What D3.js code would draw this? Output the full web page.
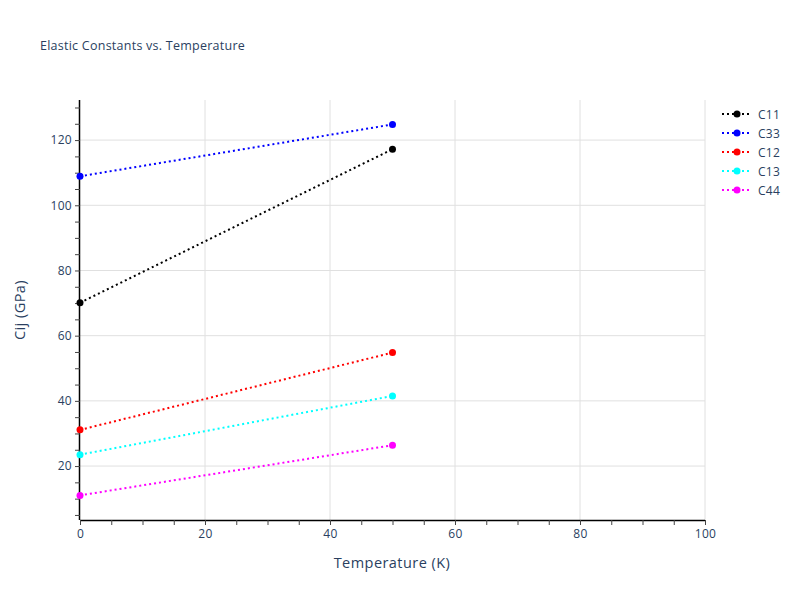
<!DOCTYPE html>
<html><head><meta charset="utf-8">
<script src="https://cdn.jsdelivr.net/npm/d3@7"></script>
<style>body{margin:0;background:#fff}text{font-family:"Open Sans",verdana,arial,sans-serif}</style>
</head><body><svg id="c" width="800" height="600"></svg>
<script>
const temps = [0, 50];
const seriesNames = ["C11", "C33", "C12", "C13", "C44"];
const seriesColors = ["#000000", "#0000ff", "#ff0000", "#00ffff", "#ff00ff"];
const C11 = [70.1, 117.2];
const C33 = [108.9, 124.8];
const C12 = [31.1, 54.8];
const C13 = [23.5, 41.5];
const C44 = [11.0, 26.4];
const seriesValues = [C11, C33, C12, C13, C44];
const xTicks = [0, 20, 40, 60, 80, 100];
const yTicks = [20, 40, 60, 80, 100, 120];

const svg = d3.select("#c");
const L = 80, R = 705, T = 100, B = 520;
const x = d3.scaleLinear().domain([0, 100]).range([L, R]);
const y = d3.scaleLinear().domain([3.45, 132.3]).range([B, T]);
const txt = "#2a3f5f";

// gridlines
svg.append("g").selectAll("line").data(xTicks.filter(d => d > 0)).join("line")
  .attr("x1", d => x(d)).attr("x2", d => x(d)).attr("y1", T).attr("y2", B)
  .attr("stroke", "#e0e0e0").attr("stroke-width", 1);
svg.append("g").selectAll("line").data(yTicks).join("line")
  .attr("x1", L).attr("x2", R).attr("y1", d => y(d)).attr("y2", d => y(d))
  .attr("stroke", "#e0e0e0").attr("stroke-width", 1);

// axes
const xAxis = d3.axisBottom(x).tickValues(d3.range(0, 101, 5)).tickSize(5)
  .tickFormat(d => xTicks.includes(d) ? d : "");
const gx = svg.append("g").attr("transform", `translate(0,${B})`).call(xAxis);
gx.select(".domain").attr("stroke", "#000").attr("d", `M${L},0.5H${R}`);
gx.selectAll(".tick line").attr("stroke", "#444");
gx.selectAll(".tick text").attr("fill", txt).attr("font-size", 12).attr("dy", "0.71em").attr("y", 9)
  .attr("letter-spacing", 0.3);

const yAxis = d3.axisLeft(y).tickValues(d3.range(5, 131, 5)).tickSize(5)
  .tickFormat(d => yTicks.includes(d) ? d : "");
const gy = svg.append("g").attr("transform", `translate(${L},0)`).call(yAxis);
gy.select(".domain").attr("stroke", "#000").attr("d", `M-0.5,${T}V${B}`);
gy.selectAll(".tick line").attr("stroke", "#444");
gy.selectAll(".tick text").attr("fill", txt).attr("font-size", 12).attr("x", -8)
  .attr("letter-spacing", 0.3);
svg.selectAll(".domain").attr("stroke-width", 1.5);

// lines & markers
const line = d3.line().x((d, i) => x(temps[i])).y(d => y(d));
seriesValues.forEach((vals, k) => {
  svg.append("path").datum(vals).attr("d", line).attr("fill", "none")
    .attr("stroke", seriesColors[k]).attr("stroke-width", 2).attr("stroke-dasharray", "2,3");
  svg.append("g").selectAll("circle").data(vals).join("circle")
    .attr("cx", (d, i) => x(temps[i])).attr("cy", d => y(d)).attr("r", 3.5)
    .attr("fill", seriesColors[k]);
});

// title
svg.append("text").attr("x", 40).attr("y", 50).attr("font-size", 12.5).attr("fill", txt)
  .attr("letter-spacing", 0.25).text("Elastic Constants vs. Temperature");
// axis titles
svg.append("text").attr("x", 392).attr("y", 568).attr("text-anchor", "middle")
  .attr("font-size", 14.5).attr("letter-spacing", 0.45).attr("fill", txt).text("Temperature (K)");
svg.append("text").attr("transform", `translate(25,${(T + B) / 2}) rotate(-90)`)
  .attr("text-anchor", "middle").attr("font-size", 14.5).attr("letter-spacing", 0.45)
  .attr("fill", txt).text("Cij (GPa)");

// legend
const lg = svg.append("g").selectAll("g").data(seriesNames).join("g")
  .attr("transform", (d, i) => `translate(722,${114 + i * 19})`);
lg.append("line").attr("x1", 0).attr("x2", 30).attr("y1", 0).attr("y2", 0)
  .attr("stroke", (d, i) => seriesColors[i]).attr("stroke-width", 2).attr("stroke-dasharray", "2,3");
lg.append("circle").attr("cx", 15).attr("cy", 0).attr("r", 3.5).attr("fill", (d, i) => seriesColors[i]);
lg.append("text").attr("x", 36).attr("y", 4.5).attr("font-size", 12).attr("letter-spacing", 0.3)
  .attr("fill", txt).text(d => d);
</script></body></html>
